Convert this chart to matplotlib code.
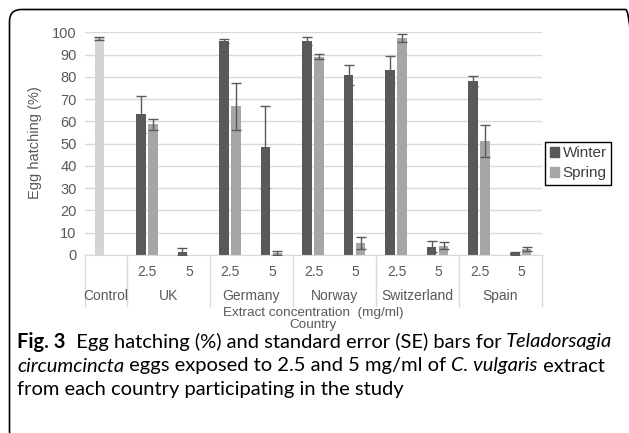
import numpy as np
import matplotlib.pyplot as plt
from matplotlib.patches import FancyBboxPatch, Patch
from matplotlib.transforms import IdentityTransform

plt.rcParams['font.family'] = ['Liberation Sans', 'DejaVu Sans']

# data
conc_labels = ['2.5', '5', '2.5', '5', '2.5', '5', '2.5', '5', '2.5', '5']
countries = ['UK', 'Germany', 'Norway', 'Switzerland', 'Spain']
control_val = 97.3
control_err = 0.8
winter_vals = [63.2, 1.5, 96.1, 48.5, 96.1, 80.8, 83.2, 3.7, 78.0, 0.7]
winter_err = [8.2, 1.5, 0.7, 18.3, 1.6, 4.5, 6.0, 2.4, 2.3, 0.8]
spring_vals = [58.7, 0.0, 66.8, 0.8, 89.0, 5.5, 97.3, 4.2, 51.2, 2.7]
spring_err = [2.5, 0.0, 10.5, 0.8, 1.2, 2.7, 1.8, 1.5, 7.2, 1.0]

W, H = 629, 433
fig = plt.figure(figsize=(W / 100, H / 100), dpi=100)
ax_top, ax_bot, ax_l, ax_r = 32.3, 255.0, 85.0, 542.0
ax = fig.add_axes([ax_l / W, 1 - ax_bot / H, (ax_r - ax_l) / W, (ax_bot - ax_top) / H])

c_winter, c_spring, c_control = '#595959', '#a6a6a6', '#d4d4d4'
c_err = '#5a5a5a'
bw = 0.23
off_w, off_s = -0.156, 0.132

x = np.arange(1, 11)
ax.bar(0 + off_w, control_val, bw, color=c_control, zorder=2)
ax.bar(x + off_w, winter_vals, bw, color=c_winter, zorder=2)
ax.bar(x + off_s, spring_vals, bw, color=c_spring, zorder=2)

ekw = dict(fmt='none', ecolor=c_err, elinewidth=1, capsize=3.5, capthick=1, zorder=3)
ax.errorbar([0 + off_w], [control_val], yerr=[control_err], **ekw)
we = np.array(winter_err)
se = np.array(spring_err)
ax.errorbar((x + off_w)[we > 0], np.array(winter_vals)[we > 0], yerr=we[we > 0], **ekw)
ax.errorbar((x + off_s)[se > 0], np.array(spring_vals)[se > 0], yerr=se[se > 0], **ekw)

ax.set_xlim(-0.5, 10.5)
ax.set_ylim(0, 100)
ax.set_yticks(range(0, 101, 10))
ax.tick_params(axis='y', length=0, labelsize=10.5, labelcolor='#595959', pad=6)
ax.set_xticks([])
ax.grid(axis='y', color='#d9d9d9', lw=1, zorder=0)
for s in ['top', 'right', 'left']:
    ax.spines[s].set_visible(False)
ax.spines['bottom'].set_color('#d9d9d9')

# multi-level category axis
ah = ax_bot - ax_top
def yf(py):
    return (ax_bot - py) / ah

tr = ax.get_xaxis_transform()
for i, lab in enumerate(conc_labels):
    ax.text(i + 1, yf(272), lab, transform=tr, ha='center', va='center', fontsize=10, color='#595959')
ax.text(0, yf(296), 'Control', transform=tr, ha='center', va='center', fontsize=10, color='#595959')
for i, c in enumerate(countries):
    ax.text(1.5 + 2 * i, yf(296), c, transform=tr, ha='center', va='center', fontsize=10, color='#595959')
for b in [-0.5, 0.5, 2.5, 4.5, 6.5, 8.5, 10.5]:
    ax.plot([b, b], [0, yf(306)], transform=tr, color='#d9d9d9', lw=1, clip_on=False)

ax.text(5, yf(313), 'Extract concentration  (mg/ml)', transform=tr, ha='center', va='center',
        fontsize=9.7, color='#595959')
ax.text(5, yf(325), 'Country', transform=tr, ha='center', va='center', fontsize=9.7, color='#595959')
fig.text(35 / W, 1 - 143 / H, 'Egg hatching (%)', rotation=90, ha='center', va='center',
         fontsize=10.5, color='#595959')

handles = [Patch(color=c_winter, label='Winter'), Patch(color=c_spring, label='Spring')]
leg = fig.legend(handles=handles, loc='upper left', bbox_to_anchor=(545 / W, 1 - 141.5 / H),
                 fontsize=11, frameon=True, fancybox=False, edgecolor='black', framealpha=1,
                 handlelength=0.6, handleheight=0.6, handletextpad=0.25, borderpad=0.3,
                 labelspacing=0.4, borderaxespad=0)
for t in leg.get_texts():
    t.set_color('#404040')
leg.get_frame().set_linewidth(1)

# caption
renderer = fig.canvas.get_renderer()
cap_font = ['Lato', 'DejaVu Sans']
lines = [
    [('Fig. 3', 'bold', 'normal'), ('  Egg hatching (%) and standard error (SE) bars for ', 'normal', 'normal'),
     ('Teladorsagia', 'normal', 'italic')],
    [('circumcincta', 'normal', 'italic'), (' eggs exposed to 2.5 and 5 mg/ml of ', 'normal', 'normal'),
     ('C. vulgaris', 'normal', 'italic'), (' extract', 'normal', 'normal')],
    [('from each country participating in the study', 'normal', 'normal')],
]
line_y = [342, 366, 390]

def draw_line(parts, py, size):
    px = 17
    arts = []
    for s, wgt, sty in parts:
        t = fig.text(px / W, 1 - py / H, s, ha='left', va='center', fontsize=size,
                     fontweight=wgt, fontstyle=sty, family=cap_font, color='black')
        px = t.get_window_extent(renderer).x1
        arts.append(t)
    return arts, px

# fit the first caption line to the width seen in the figure
test, right = draw_line(lines[0], line_y[0], 13)
for t in test:
    t.remove()
cap_size = 13 * (613 - 17) / (right - 17)
for parts, py in zip(lines, line_y):
    draw_line(parts, py, cap_size)

frame = FancyBboxPatch((9.5, -10), 628, 433.5, boxstyle='round,pad=0,rounding_size=12',
                       transform=IdentityTransform(), fill=False, edgecolor='black', lw=1.2)
fig.add_artist(frame)

fig.savefig('out.png', dpi=100)
